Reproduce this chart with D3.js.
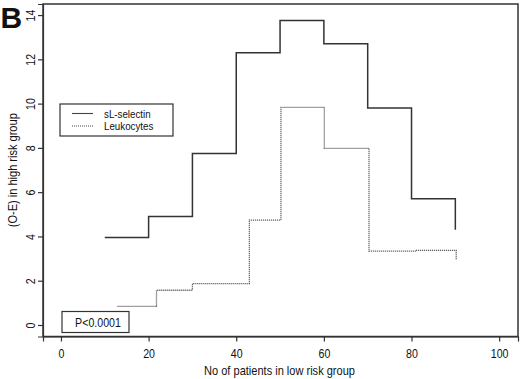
<!DOCTYPE html>
<html><head><meta charset="utf-8">
<script src="https://cdn.jsdelivr.net/npm/d3@7"></script>
<style>body{margin:0;background:#fff}svg{display:block}text{font-family:"Liberation Sans",Arial,sans-serif;fill:#111}</style>
</head><body><svg id="c" width="520" height="379"></svg>
<script>
const xTicks = [0, 20, 40, 60, 80, 100];
const yTicks = [0, 2, 4, 6, 8, 10, 12, 14];
const selX = [10, 20, 30, 40, 50, 60, 70, 80, 90];
const selY = [3.95, 4.9, 7.75, 12.3, 13.75, 12.7, 9.8, 5.7, 4.3];
const leuX = [12.9, 21.8, 30, 43, 50.2, 60.1, 70.3, 81, 90.2];
const leuY = [0.84, 1.57, 1.87, 4.74, 9.83, 7.98, 3.34, 3.37, 2.94];
const seriesNames = ["sL-selectin", "Leukocytes"];
const pLabel = "P<0.0001";

const SX = 0.85; // horizontal condensation of text (narrow Helvetica look)
const svg = d3.select("#c");
const L = 43, R = 518, T = 4, B = 336.5;
const x = d3.scaleLinear().domain([-4.1, 104.3]).range([L, R]);
const y = d3.scaleLinear().domain([-0.52, 14.5]).range([B, T]);

function label(g, tx, ty, str, size, anchor, rot) {
  return g.append("text")
    .attr("transform", `translate(${tx},${ty})` + (rot ? ` rotate(${rot})` : "") + ` scale(${SX},1)`)
    .attr("text-anchor", anchor || "start").attr("font-size", size).text(str);
}

// box
svg.append("rect").attr("x", L).attr("y", T).attr("width", R - L).attr("height", B - T)
  .attr("fill", "none").attr("stroke", "#333").attr("stroke-width", 1.5);

// x axis
const gx = svg.append("g").attr("transform", `translate(0,${B})`)
  .call(d3.axisBottom(x).tickValues(xTicks).tickSize(5).tickFormat(d3.format("d")));
gx.select(".domain").attr("stroke", "#333").attr("stroke-width", 1.2);
gx.selectAll("line").attr("stroke", "#333").attr("stroke-width", 1.2);
gx.selectAll(".tick text").attr("font-size", 12.5).style("font-family", "Liberation Sans, Arial, sans-serif")
  .attr("fill", "#111").attr("y", null).attr("dy", null)
  .attr("transform", `translate(0,21) scale(${SX},1)`);

// y axis
const gy = svg.append("g").attr("transform", `translate(${L},0)`)
  .call(d3.axisLeft(y).tickValues(yTicks).tickSize(5).tickFormat(d3.format("d")));
gy.select(".domain").attr("stroke", "#333").attr("stroke-width", 1.2);
gy.selectAll("line").attr("stroke", "#333").attr("stroke-width", 1.2);
gy.selectAll(".tick text").attr("font-size", 12.5).style("font-family", "Liberation Sans, Arial, sans-serif")
  .attr("fill", "#111").attr("x", null).attr("dy", null).attr("y", null)
  .attr("text-anchor", "middle")
  .attr("transform", `translate(-8,0) rotate(-90) scale(${SX},1)`);

// axis titles
label(svg, (L + R) / 2 - 1, 375, "No of patients in low risk group", 13, "middle");
label(svg, 17, (T + B) / 2, "(O-E) in high risk group", 13, "middle", -90);

// panel letter
svg.append("text").attr("x", 0.5).attr("y", 27.5).attr("font-size", 30).attr("font-weight", "bold")
  .style("font-family", "Liberation Sans, Arial, sans-serif").attr("fill", "#000").text("B");

// step lines
const line = d3.line().x(d => x(d[0])).y(d => y(d[1])).curve(d3.curveStepAfter);
const selData = selX.map((v, i) => [v, selY[i]]);
const leuData = leuX.map((v, i) => [v, leuY[i]]);
svg.append("path").datum(selData).attr("d", line).attr("fill", "none")
  .attr("stroke", "#333").attr("stroke-width", 1.5);
svg.append("path").datum(leuData).attr("d", line).attr("fill", "none")
  .attr("stroke", "#444").attr("stroke-width", 1.3).attr("stroke-dasharray", "1,1");

// legend
const lg = svg.append("g");
lg.append("rect").attr("x", 60).attr("y", 104).attr("width", 113).attr("height", 32)
  .attr("fill", "#fff").attr("stroke", "#333").attr("stroke-width", 1.2);
seriesNames.forEach((n, i) => {
  const yy = 113.5 + i * 12.5;
  lg.append("line").attr("x1", 72).attr("x2", 93).attr("y1", yy).attr("y2", yy)
    .attr("stroke", "#444").attr("stroke-width", 1.1)
    .attr("stroke-dasharray", i === 1 ? "1,1" : null);
  label(lg, 104, yy + 4, n, 11.5, "start");
});

// p-value box
svg.append("rect").attr("x", 62).attr("y", 311.5).attr("width", 67).attr("height", 21)
  .attr("fill", "#fff").attr("stroke", "#333").attr("stroke-width", 1.2);
label(svg, 98, 326.5, pLabel, 12.5, "middle");
</script></body></html>
